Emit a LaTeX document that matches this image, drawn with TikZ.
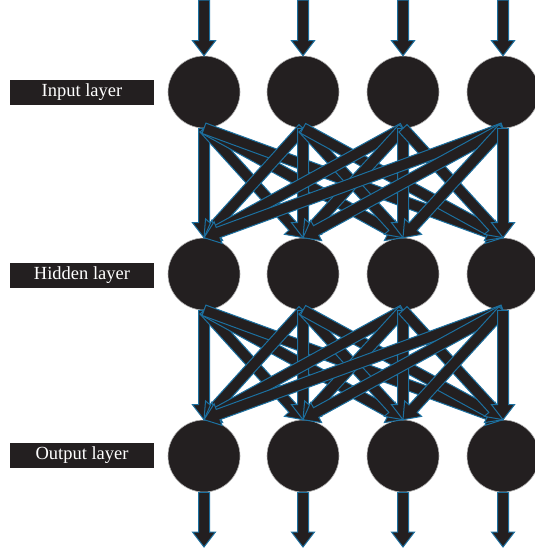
\documentclass[tikz,border=0pt]{standalone}
\usepackage{fontspec}
\setmainfont{Liberation Serif}
\usetikzlibrary{calc}
\definecolor{ink}{RGB}{35,31,32}
\definecolor{edge}{RGB}{28,112,160}
\tikzset{
  neuron/.style={circle, fill=ink, draw=gray!60, line width=0.6pt, minimum size=72pt, inner sep=0pt},
  layerbox/.style={fill=ink, text=white, minimum width=144pt, minimum height=25pt, inner sep=0pt, font=\fontsize{18.5}{21}\selectfont},
  fatarrow/.style={fill=ink, draw=edge, line width=1pt, line join=miter}
}
\newcommand{\fatarrow}[2]{%
  \coordinate (hb) at ($(#2)!15pt!(#1)$);
  \filldraw[fatarrow] ($(#1)!5.5pt!90:(#2)$) -- ($(hb)!5.5pt!90:(#2)$) -- ($(hb)!11.5pt!90:(#2)$) -- (#2) -- ($(hb)!11.5pt!-90:(#2)$) -- ($(hb)!5.5pt!-90:(#2)$) -- ($(#1)!5.5pt!-90:(#2)$) -- cycle;}
\begin{document}
\begin{tikzpicture}[x=1pt,y=-1pt]
\useasboundingbox (0,0) rectangle (535,557);
\foreach \n/\x in {1/204,2/303,3/403,4/503}{
  \node[neuron] (i\n) at (\x,92) {};
  \node[neuron] (h\n) at (\x,274) {};
  \node[neuron] (o\n) at (\x,456) {};
  \coordinate (top\n) at (\x,0);
  \coordinate (bot\n) at (\x,547);
}
\node[layerbox] (lin) at (82,92.5) {Input layer};
\node[layerbox] (lhid) at (82,275) {Hidden layer};
\node[layerbox] (lout) at (82,455.5) {Output layer};
\foreach \n in {1,...,4}{
  \fatarrow{top\n}{i\n.north}
  \fatarrow{o\n.south}{bot\n}
}
\foreach \a in {1,...,4}{
  \foreach \b in {1,...,4}{
    \fatarrow{i\a.south}{h\b.north}
  }
}
\foreach \a in {1,...,4}{
  \foreach \b in {1,...,4}{
    \fatarrow{h\a.south}{o\b.north}
  }
}
\end{tikzpicture}
\end{document}
